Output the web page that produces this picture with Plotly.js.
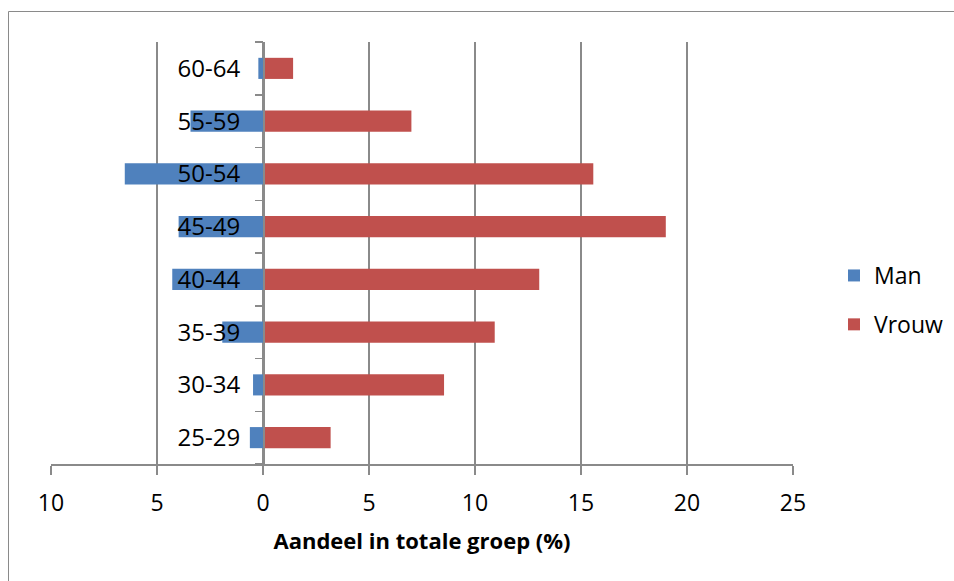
<!DOCTYPE html>
<html>
<head>
<meta charset="utf-8">
<script src="https://cdn.plot.ly/plotly-3.0.1.min.js"></script>
<style>
  html, body { margin: 0; padding: 0; background: #ffffff; }
  #chart { width: 954px; height: 581px; }
</style>
</head>
<body>
<div id="chart"></div>
<script>
// Age groups, bottom to top
var ageGroups = ['25-29', '30-34', '35-39', '40-44', '45-49', '50-54', '55-59', '60-64'];
// Share of the total group (%), men drawn to the left of zero
var manShare = [0.62, 0.47, 1.92, 4.28, 3.98, 6.52, 3.42, 0.22];
var vrouwShare = [3.19, 8.54, 10.93, 13.03, 19.0, 15.58, 7.0, 1.42];
// Horizontal axis ticks: signed positions, unsigned labels
var tickPositions = [-10, -5, 0, 5, 10, 15, 20, 25];
var tickLabels = ['10', '5', '0', '5', '10', '15', '20', '25'];

var W = 954, H = 581;
var M = { l: 51, r: 161, t: 42, b: 117, autoexpand: false };
var plotW = W - M.l - M.r, plotH = H - M.t - M.b;
var xMin = -10, xMax = 25;

function px2paperX(px) { return (px - M.l) / plotW; }
function px2paperY(py) { return (H - M.b - py) / plotH; }

var font = "'Open Sans', 'Liberation Sans', sans-serif";
var gridColor = '#8a8a8a';

var traces = [
  {
    type: 'bar', orientation: 'h', name: 'Man',
    y: ageGroups, x: manShare.map(function (v) { return -v; }),
    marker: { color: '#4f81bd' },
    legendgroup: 'man', hoverinfo: 'skip'
  },
  {
    type: 'bar', orientation: 'h', name: 'Vrouw',
    y: ageGroups, x: vrouwShare,
    marker: { color: '#c0504d' },
    legendgroup: 'vrouw', hoverinfo: 'skip'
  }
];

var layout = {
  width: W, height: H,
  margin: M,
  paper_bgcolor: '#ffffff', plot_bgcolor: '#ffffff',
  font: { family: font, color: '#000000' },
  barmode: 'relative',
  bargap: 0.6,
  showlegend: true,
  legend: {
    x: px2paperX(834), xanchor: 'left',
    y: px2paperY(300), yanchor: 'middle',
    traceorder: 'grouped', tracegroupgap: 16,
    font: { size: 23, family: font, color: '#000000' },
    bgcolor: 'rgba(0,0,0,0)'
  },
  xaxis: {
    range: [xMin, xMax],
    tickmode: 'array', tickvals: tickPositions, ticktext: tickLabels,
    showgrid: true, gridcolor: gridColor, gridwidth: 1.5,
    zeroline: false,
    showline: true, linecolor: gridColor, linewidth: 1.5,
    ticks: 'outside', ticklen: 9, tickcolor: gridColor, tickwidth: 1.5,
    ticklabelstandoff: 9,
    tickfont: { size: 23, family: font, color: '#000000' },
    title: {
      text: 'Aandeel in totale groep (%)',
      font: { size: 22, family: font, color: '#000000', weight: 'bold' },
      standoff: 16
    },
    fixedrange: true
  },
  yaxis: {
    type: 'category',
    categoryorder: 'array', categoryarray: ageGroups,
    anchor: 'free', position: (0 - xMin) / (xMax - xMin),
    showline: true, linecolor: gridColor, linewidth: 1.5,
    showgrid: false, zeroline: false,
    ticks: 'outside', ticklen: 8, tickcolor: gridColor, tickwidth: 1.5,
    tickson: 'boundaries',
    ticklabelstandoff: 18,
    tickfont: { size: 24, family: font, color: '#000000' },
    fixedrange: true
  },
  shapes: [
    {
      // outer chart frame (left and top edges)
      type: 'path', xref: 'paper', yref: 'paper',
      path: 'M ' + px2paperX(8.5) + ' ' + px2paperY(H + 20) +
            ' L ' + px2paperX(8.5) + ' ' + px2paperY(11.5) +
            ' L ' + px2paperX(W + 20) + ' ' + px2paperY(11.5),
      line: { color: '#8a8a8a', width: 1 },
      layer: 'below'
    }
  ]
};

Plotly.newPlot('chart', traces, layout, { displayModeBar: false, staticPlot: true });
</script>
</body>
</html>
